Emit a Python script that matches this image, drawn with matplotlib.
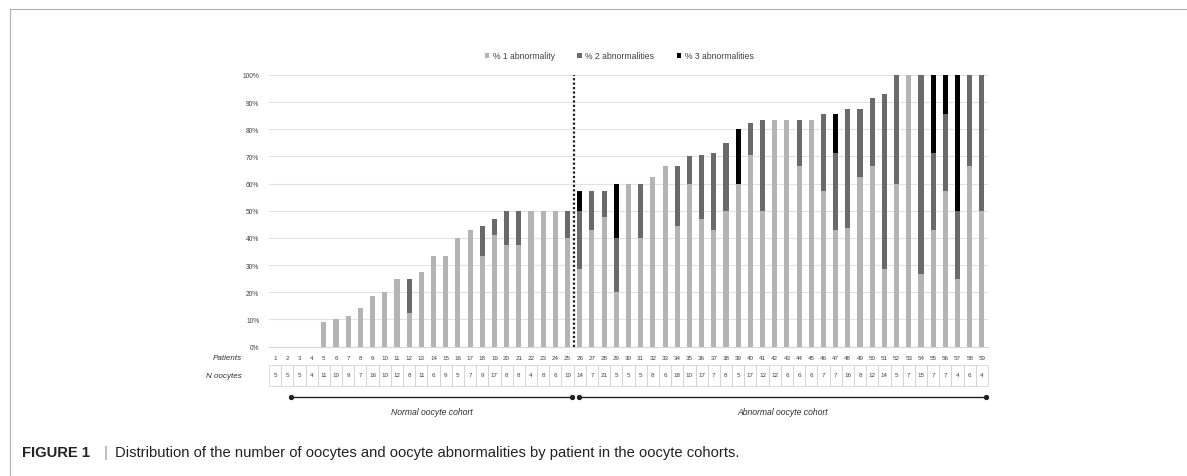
import matplotlib.pyplot as plt
import matplotlib.transforms as mtransforms
from matplotlib.patches import Rectangle, Patch
from matplotlib.lines import Line2D
import numpy as np

plt.rcParams['font.family'] = ['Liberation Sans', 'DejaVu Sans']

patients = list(range(1, 60))
n_oocytes = [5, 5, 5, 4, 11, 10, 9, 7, 16, 10, 12, 8, 11, 6, 9, 5, 7, 9, 17, 8, 8, 4, 8, 6, 10,
             14, 7, 21, 5, 5, 5, 8, 6, 18, 10, 17, 7, 8, 5, 17, 12, 12, 6, 6, 6, 7, 7, 16, 8, 12,
             14, 5, 7, 15, 7, 7, 4, 6, 4]
# number of oocytes with 1, 2, 3 abnormalities per patient
abn1 = [0, 0, 0, 0, 1, 1, 1, 1, 3, 2, 3, 1, 3, 2, 3, 2, 3, 3, 7, 3, 3, 2, 4, 3, 4,
        4, 3, 10, 1, 3, 2, 5, 4, 8, 6, 8, 3, 4, 3, 12, 6, 10, 5, 4, 5, 4, 3, 7, 5, 8,
        4, 3, 7, 4, 3, 4, 1, 4, 2]
abn2 = [0, 0, 0, 0, 0, 0, 0, 0, 0, 0, 0, 1, 0, 0, 0, 0, 0, 1, 1, 1, 1, 0, 0, 0, 1,
        3, 1, 2, 1, 0, 1, 0, 0, 4, 1, 4, 2, 2, 0, 2, 4, 0, 0, 1, 0, 2, 2, 7, 2, 3,
        9, 2, 0, 11, 2, 2, 1, 2, 2]
abn3 = [0, 0, 0, 0, 0, 0, 0, 0, 0, 0, 0, 0, 0, 0, 0, 0, 0, 0, 0, 0, 0, 0, 0, 0, 0,
        1, 0, 0, 1, 0, 0, 0, 0, 0, 0, 0, 0, 0, 1, 0, 0, 0, 0, 0, 0, 0, 1, 0, 0, 0,
        0, 0, 0, 0, 2, 1, 2, 0, 0]
n_normal = 25

series_names = ['% 1 abnormality', '% 2 abnormalities', '% 3 abnormalities']
colors = ['#b4b4b4', '#6a6a6a', '#000000']

x = np.array(patients)
n = np.array(n_oocytes, dtype=float)
p1 = 100 * np.array(abn1) / n
p2 = 100 * np.array(abn2) / n
p3 = 100 * np.array(abn3) / n

W, H = 1187, 477
fig = plt.figure(figsize=(W / 100, H / 100), dpi=100)

# axes placed in pixel terms
left, right, top, bottom = 269, 988, 76, 347.5
ax = fig.add_axes([left / W, 1 - bottom / H, (right - left) / W, (bottom - top) / H])

bw = 0.42
ax.bar(x, p1, width=bw, color=colors[0], zorder=3)
ax.bar(x, p2, width=bw, bottom=p1, color=colors[1], zorder=3)
ax.bar(x, p3, width=bw, bottom=p1 + p2, color=colors[2], zorder=3)

ax.set_xlim(0.5, 59.5)
ax.set_ylim(0, 100)
ax.set_yticks(np.arange(0, 101, 10))
ax.set_yticklabels([f'{v}%' for v in range(0, 101, 10)], fontsize=4.8, color='#404040')
ax.tick_params(axis='y', length=0, pad=7)
ax.set_xticks([])
ax.grid(axis='y', color='#e2e2e2', linewidth=0.8, zorder=0)
for s in ['top', 'right', 'left']:
    ax.spines[s].set_visible(False)
ax.spines['bottom'].set_color('#d6d6d6')
ax.spines['bottom'].set_linewidth(0.8)

# cohort separator
ax.axvline(n_normal + 0.5, ymin=0, ymax=1, color='#202020', linestyle=(0, (1, 1)),
           linewidth=1.6, zorder=4)

handles = [Patch(facecolor=c, edgecolor='none') for c in colors]
ax.legend(handles, series_names, loc='center', bbox_to_anchor=(0.487, 1.07), ncol=3,
          frameon=False, fontsize=6.2, handlelength=0.55, handleheight=0.55,
          handletextpad=0.4, columnspacing=2.6, labelcolor='#404040')

# table under the chart: x in data coords, y in figure pixels (from top)
px = mtransforms.Affine2D().scale(1 / W, -1 / H).translate(0, 1) + fig.transFigure
tr = mtransforms.blended_transform_factory(ax.transData, px)

fig.text(242 / W, 1 - 359 / H, 'Patients', fontsize=5.8, style='italic', ha='right',
         va='center', color='#303030')
fig.text(242 / W, 1 - 377 / H, 'N oocytes', fontsize=5.8, style='italic', ha='right',
         va='center', color='#303030')
for xi, ni in zip(patients, n_oocytes):
    ax.text(xi, 359, str(xi), transform=tr, fontsize=4.5, ha='center', va='center',
            color='#404040', clip_on=False)
    ax.text(xi, 376, str(ni), transform=tr, fontsize=4.5, ha='center', va='center',
            color='#404040', clip_on=False)
    ax.add_patch(Rectangle((xi - 0.5, 366), 1, 21, transform=tr, facecolor='none',
                           edgecolor='#d4d4d4', linewidth=0.6, clip_on=False))

# cohort arrows
for x0, x1 in [(2.3, 25.38), (25.95, 59.34)]:
    ax.add_line(Line2D([x0, x1], [398, 398], transform=tr, color='#202020', linewidth=1.0,
                       marker='o', markersize=2.8, clip_on=False))
ax.text(13.84, 413, 'Normal oocyte cohort', transform=tr, fontsize=6.2, style='italic',
        ha='center', va='center', color='#303030', clip_on=False)
ax.text(42.65, 413, 'Abnormal oocyte cohort', transform=tr, fontsize=6.2, style='italic',
        ha='center', va='center', color='#303030', clip_on=False)

# page frame lines
fig.add_artist(Line2D([10 / W, 1], [1 - 10 / H, 1 - 10 / H], color='#b0b0b0', linewidth=0.8))
fig.add_artist(Line2D([10 / W, 10 / W], [1 - 10 / H, 0], color='#b0b0b0', linewidth=0.8))

# caption
fig.text(22 / W, 1 - 453 / H, 'FIGURE 1', fontsize=10.6, fontweight='bold', va='center',
         color='#222222')
fig.text(104 / W, 1 - 453 / H, '|', fontsize=10.6, va='center', color='#999999')
fig.text(115 / W, 1 - 453 / H,
         'Distribution of the number of oocytes and oocyte abnormalities by patient in the oocyte cohorts.',
         fontsize=10.6, va='center', color='#222222')

fig.savefig('out.png', dpi=100)
